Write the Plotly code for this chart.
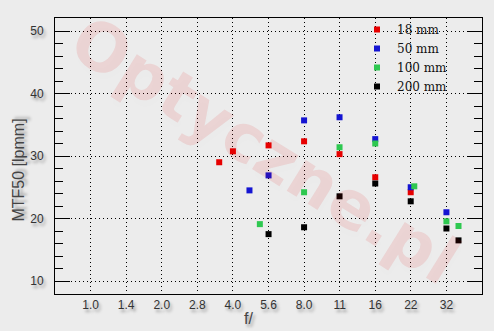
import plotly.graph_objects as go
import math

# ---- data ----
f_18 = [3.5, 4.0, 5.66, 8.0, 11.3, 16.0, 22.6]
v_18 = [29.0, 30.75, 31.7, 32.35, 30.3, 26.6, 24.2]

f_50 = [4.7, 5.66, 8.0, 11.3, 16.0, 22.6, 32.0]
v_50 = [24.5, 26.9, 35.7, 36.2, 32.7, 25.0, 21.0]

f_100 = [5.2, 8.0, 11.3, 16.0, 23.4, 32.0, 36.0]
v_100 = [19.1, 24.2, 31.4, 32.0, 25.15, 19.55, 18.8]

f_200 = [5.66, 8.0, 11.3, 16.0, 22.6, 32.0, 36.0]
v_200 = [17.5, 18.6, 23.55, 25.6, 22.75, 18.4, 16.5]

series_names = ["18 mm", "50 mm", "100 mm", "200 mm"]
series_colors = ["#e60000", "#1414d2", "#2ec850", "#000000"]

stop_vals = [1.0, 1.414, 2.0, 2.828, 4.0, 5.657, 8.0, 11.31, 16.0, 22.63, 32.0]
stop_text = ["1.0", "1.4", "2.0", "2.8", "4.0", "5.6", "8.0", "11", "16", "22", "32"]

fig = go.Figure()
for fx, vy, nm, col in zip([f_18, f_50, f_100, f_200], [v_18, v_50, v_100, v_200],
                           series_names, series_colors):
    fig.add_trace(go.Scatter(x=fx, y=vy, mode="markers", name=nm,
                             marker=dict(symbol="square", size=6, color=col,
                                         line=dict(width=0))))

shadow = "2px 3px 3px rgba(0,0,0,0.35)"
W, H = 494, 331
L, R, T, B = 55, 12, 18, 37
pw, ph = W - L - R, H - T - B

fig.update_layout(
    width=W, height=H,
    margin=dict(l=L, r=R, t=T, b=B),
    paper_bgcolor="#ececec",
    plot_bgcolor="#ececec",
    showlegend=True,
    legend=dict(x=(357 - L) / pw, y=(H - B - 15) / ph, xanchor="left", yanchor="top",
                bgcolor="rgba(0,0,0,0)", borderwidth=0,
                font=dict(family="DejaVu Serif", size=12, color="#111")),
    xaxis=dict(type="log",
               range=[math.log10(2 ** -0.5), math.log10(2 ** 5.5)],
               tickvals=stop_vals, ticktext=stop_text,
               showgrid=True, gridcolor="#000", gridwidth=1, griddash="1px,3px",
               showline=True, linecolor="#000", linewidth=1, mirror=True,
               ticks="", zeroline=False,
               tickfont=dict(family="Liberation Sans", size=12, color="#333", shadow=shadow)),
    yaxis=dict(range=[10 - 13 / 6.25, 50 + 13 / 6.25],
               tickvals=[10, 20, 30, 40, 50],
               showgrid=True, gridcolor="#000", gridwidth=1, griddash="1px,3px",
               showline=True, linecolor="#000", linewidth=1, mirror="ticks",
               ticks="inside", ticklen=15, tickcolor="#000", tickwidth=1,
               minor=dict(dtick=2, tick0=0, ticks="inside", ticklen=8, tickcolor="#000",
                          tickwidth=1, showgrid=False),
               ticklabelstandoff=8, zeroline=False,
               tickfont=dict(family="Liberation Sans", size=12, color="#333", shadow=shadow)),
)

# watermark
fig.add_annotation(text="<b>Optyczne.pl</b>", xref="paper", yref="paper",
                   x=(265 - L) / pw, y=(H - B - 150) / ph, showarrow=False,
                   xanchor="center", yanchor="middle",
                   textangle=32,
                   font=dict(family="DejaVu Sans", size=66, color="rgba(225,0,0,0.10)",
                             shadow="4px 5px 5px rgba(0,0,0,0.06)"))

# axis titles
fig.add_annotation(text="MTF50 [lpmm]", xref="paper", yref="paper",
                   x=(17.5 - L) / pw, y=(H - B - 170) / ph, showarrow=False,
                   xanchor="center", yanchor="middle",
                   textangle=-90,
                   font=dict(family="Liberation Sans", size=16, color="#444", shadow=shadow))
fig.add_annotation(text="f/", xref="paper", yref="paper",
                   x=(248 - L) / pw, y=(H - B - 318) / ph, showarrow=False,
                   xanchor="center", yanchor="middle",
                   font=dict(family="Liberation Sans", size=16, color="#444", shadow=shadow))

fig.write_html("out.html")
